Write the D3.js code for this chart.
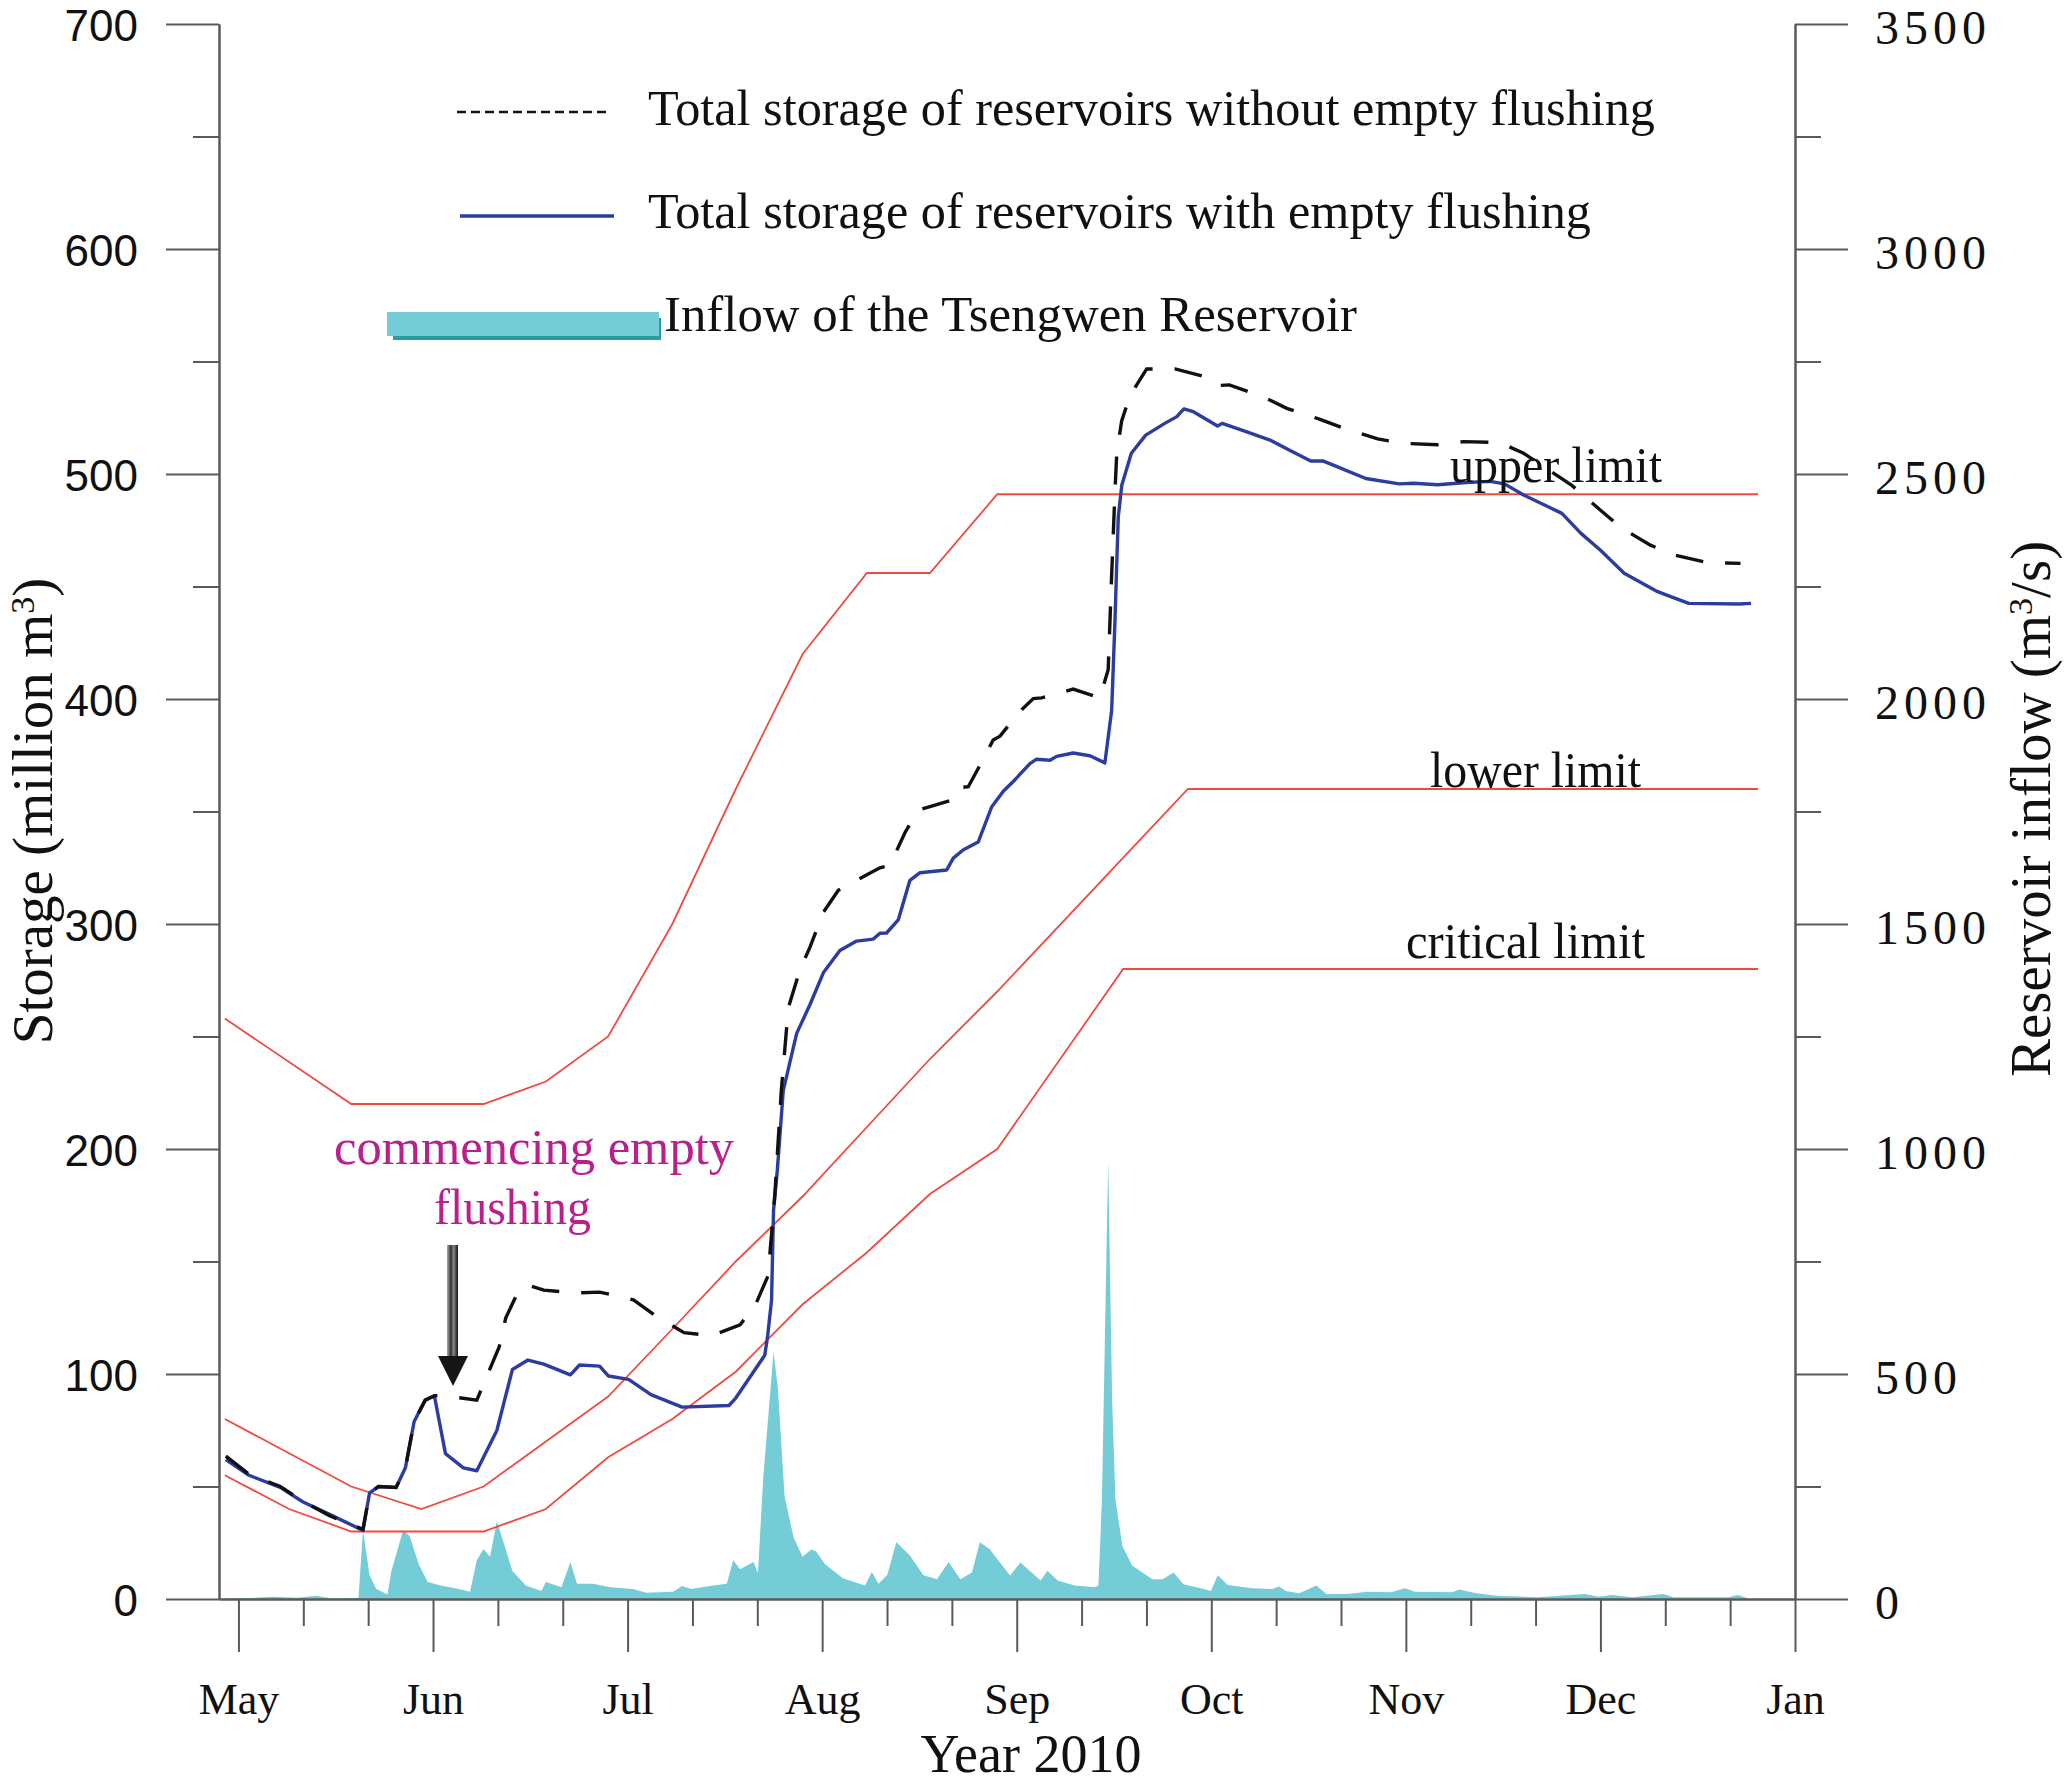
<!DOCTYPE html>
<html><head><meta charset="utf-8">
<script src="https://cdn.jsdelivr.net/npm/d3@7"></script>
<style>html,body{margin:0;padding:0;background:#fff;} svg{display:block;}</style>
</head><body>
<svg id="chart" width="2067" height="1784"></svg>
<script>
// ---- data (x = months since 1 May 2010) ----
const monthLabels = ["May","Jun","Jul","Aug","Sep","Oct","Nov","Dec","Jan"];
const leftTicks = [0,100,200,300,400,500,600,700];
const rightTicks = [0,500,1000,1500,2000,2500,3000,3500];

const storageWith = [
 [-0.065,62],[0.054,55],[0.215,49.6],[0.33,43.2],[0.468,37.6],[0.64,30.5],[0.674,47.2],[0.72,50],[0.81,49.6],
 [0.858,58.3],[0.903,78.9],[0.96,88.4],[1.007,90.3],[1.064,64.6],[1.156,58.3],[1.225,57],[1.328,74.9],[1.408,102],
 [1.488,106.2],[1.569,104.4],[1.706,99.6],[1.753,104],[1.856,103.5],[1.902,99.1],[2.005,97.6],[2.12,90.8],[2.28,85.3],
 [2.521,86],[2.555,89.2],[2.705,108.3],[2.72,117],[2.74,133],[2.75,172.6],[2.769,190],[2.8,225.9],[2.869,251.4],
 [2.937,264.1],[3.006,278.3],[3.091,288.2],[3.177,292.4],[3.263,293.3],[3.297,295.9],[3.331,296],[3.391,301.8],
 [3.451,319.4],[3.503,322.8],[3.64,324],[3.674,329.3],[3.726,333],[3.802,336.4],[3.871,352],[3.931,359],[3.982,363.3],
 [4.068,371.3],[4.1,373.2],[4.171,372.8],[4.205,374.5],[4.29,376],[4.376,374.8],[4.453,371.6],[4.488,395],[4.505,435],
 [4.514,460],[4.522,481],[4.54,495],[4.589,509.2],[4.663,517.3],[4.761,522.5],[4.823,525.5],[4.859,528.9],[4.908,527.7],
 [5.032,521.3],[5.056,522.5],[5.179,518.8],[5.302,515.1],[5.4,510.7],[5.511,505.8],[5.573,505.8],[5.646,503.3],
 [5.794,498],[5.966,495.6],[6.04,495.9],[6.163,495.2],[6.31,496.2],[6.433,496.7],[6.507,495.6],[6.605,490.7],
 [6.802,482.5],[6.9,473.6],[6.999,466.2],[7.122,455.9],[7.294,447.7],[7.368,445.3],[7.454,442.5],[7.712,442.2],[7.774,442.5]
];

const storageWithout = [
 [-0.065,63.5],[0.054,55.5],[0.215,50],[0.33,43.5],[0.468,37],[0.64,31],[0.674,47.2],[0.72,50],[0.81,49.6],
 [0.858,58.3],[0.903,78.9],[0.96,88.4],[1.007,90.3],[1.04,90.5],[1.225,88.4],[1.27,97.7],[1.34,112],[1.374,125],
 [1.443,137.6],[1.5,139.2],[1.569,137.3],[1.73,136],[1.856,136.4],[2.03,133],[2.142,126],[2.29,118.4],[2.43,117],
 [2.578,121.8],[2.66,131.3],[2.722,143.7],[2.757,180],[2.79,226],[2.826,262.7],[2.886,279.7],[2.937,289.6],
 [3.006,305.2],[3.083,315],[3.237,322.2],[3.297,325],[3.348,326],[3.426,340.7],[3.494,350.6],[3.657,354.8],
 [3.691,360.5],[3.751,361],[3.837,374.7],[3.879,381.8],[3.914,383.5],[4.016,394.5],[4.085,400.2],[4.128,400.5],
 [4.29,404.4],[4.427,400.5],[4.47,413],[4.488,455.4],[4.505,492.3],[4.514,509],[4.539,523.5],[4.582,534.8],
 [4.668,546.7],[4.814,546.7],[4.97,543.2],[5.032,539.3],[5.093,539.6],[5.265,534.4],[5.388,529.2],[5.559,524.3],
 [5.681,520.3],[5.855,515.6],[5.99,513.6],[6.163,513],[6.298,514.4],[6.482,514],[6.605,509.2],[6.851,495.1],
 [6.999,484],[7.11,475.9],[7.257,468.4],[7.38,464],[7.552,460.6],[7.72,460.3]
];

const inflow = [
 [-0.07,1],[0.05,2],[0.18,5],[0.3,3],[0.4,7],[0.48,1],[0.6,2],[0.617,3],[0.64,152],[0.674,53],[0.708,22],[0.766,10],
 [0.786,62],[0.846,152],[0.88,140],[0.926,78],[0.972,38],[1.04,30],[1.134,22],[1.19,16],[1.225,86],[1.259,111],
 [1.293,94],[1.328,173],[1.374,110],[1.408,62],[1.477,30],[1.557,18],[1.58,38],[1.66,26],[1.706,82],[1.74,34],
 [1.822,34],[1.913,26],[2.028,22],[2.096,14],[2.234,16],[2.28,29],[2.326,22],[2.44,30],[2.51,34],[2.543,86],
 [2.578,66],[2.647,82],[2.67,58],[2.697,268],[2.75,549],[2.772,470],[2.807,228],[2.853,137],[2.899,94],[2.945,110],
 [2.968,106],[3.014,78],[3.106,46],[3.22,30],[3.255,60],[3.29,34],[3.335,54],[3.381,126],[3.45,97],[3.52,53],
 [3.59,44],[3.65,82],[3.71,44],[3.77,59],[3.81,126],[3.86,111],[3.914,81],[3.966,52],[4.019,81],[4.123,41],
 [4.158,63],[4.21,41],[4.298,30],[4.4,26],[4.42,30],[4.438,222],[4.47,975],[4.49,450],[4.507,222],[4.543,118],
 [4.594,74],[4.646,59],[4.698,44],[4.75,44],[4.806,59],[4.857,33],[4.962,22],[4.998,18],[5.033,53],[5.085,31],
 [5.208,24],[5.313,22],[5.348,28],[5.383,18],[5.452,13],[5.54,30],[5.592,11],[5.697,11],[5.802,16],[5.924,15],
 [5.994,24],[6.047,16],[6.239,15],[6.274,21],[6.362,13],[6.467,7],[6.676,4],[6.921,11],[6.99,5],[7.06,9],
 [7.166,4],[7.323,11],[7.376,4],[7.656,4],[7.708,9],[7.761,1]
];

const upperLimit = [[-0.07,258],[0.58,220],[1.26,220],[1.58,230],[1.9,250],[2.23,300],[2.556,360],[2.9,420],[3.23,456],[3.554,456],[3.9,491],[7.81,491]];
const lowerLimit = [[-0.07,80],[0.58,50],[0.94,40],[1.26,50],[1.9,90],[2.23,120],[2.556,150],[2.9,179],[3.554,240],[3.9,270],[4.88,360],[7.81,360]];
const criticalLimit = [[-0.07,55],[0.26,40],[0.58,30],[1.26,30],[1.58,40],[1.9,63],[2.23,80],[2.556,101],[2.9,131],[3.23,154],[3.554,180],[3.9,200],[4.547,280],[7.81,280]];

const legendLabels = ["Total storage of reservoirs without empty flushing","Total storage of reservoirs with empty flushing","Inflow of the Tsengwen Reservoir"];
const limitLabels = ["upper limit","lower limit","critical limit"];

// ---- drawing ----
const svg = d3.select("#chart");
const serif = "'Liberation Serif','Times New Roman',serif";
const sans = "'Liberation Sans',Arial,sans-serif";
const axisColor = "#5a5a5a";

const x = d3.scaleLinear().domain([-0.1, 8]).range([219, 1795]);
const yL = d3.scaleLinear().domain([0, 700]).range([1599, 24]);
const yR = d3.scaleLinear().domain([0, 3500]).range([1599, 24]);

// inflow area
svg.append("path").datum(inflow)
  .attr("fill", "#74ccd6")
  .attr("d", d3.area().x(d => x(d[0])).y0(yR(0)).y1(d => yR(d[1])));

// axes
function styleAxis(g){
  g.selectAll("path.domain").attr("stroke", axisColor).attr("stroke-width", 2);
  g.selectAll(".tick line").attr("stroke", axisColor).attr("stroke-width", 2);
}
const minorL = d3.range(50, 700, 100);
svg.append("g").attr("transform","translate(219,0)")
  .call(d3.axisLeft(yL).tickValues(minorL).tickSize(26).tickSizeOuter(0).tickFormat(""))
  .call(styleAxis);
const gL = svg.append("g").attr("transform","translate(219,0)")
  .call(d3.axisLeft(yL).tickValues(leftTicks).tickSize(53).tickSizeOuter(0).tickPadding(28).tickFormat(d3.format("d")))
  .call(styleAxis);
gL.selectAll("text").attr("font-family", sans).attr("font-size", 44).attr("fill", "#111").attr("dy","0.37em");

const minorR = d3.range(250, 3500, 500);
svg.append("g").attr("transform","translate(1795,0)")
  .call(d3.axisRight(yR).tickValues(minorR).tickSize(26).tickSizeOuter(0).tickFormat(""))
  .call(styleAxis);
const gR = svg.append("g").attr("transform","translate(1795,0)")
  .call(d3.axisRight(yR).tickValues(rightTicks).tickSize(53).tickSizeOuter(0).tickPadding(27).tickFormat(d3.format("d")))
  .call(styleAxis);
gR.selectAll("text").attr("font-family", serif).attr("font-size", 48).attr("letter-spacing", 5).attr("fill", "#111").attr("dy","0.4em");

const minorX = [];
d3.range(0, 8).forEach(i => { minorX.push(i + 1/3, i + 2/3); });
svg.append("g").attr("transform","translate(0,1599)")
  .call(d3.axisBottom(x).tickValues(minorX).tickSize(27).tickSizeOuter(0).tickFormat(""))
  .call(styleAxis);
const gB = svg.append("g").attr("transform","translate(0,1599)")
  .call(d3.axisBottom(x).tickValues(d3.range(0, 9)).tickSize(53).tickSizeOuter(0).tickFormat(i => monthLabels[i]))
  .call(styleAxis);
gB.selectAll("text").attr("font-family", serif).attr("font-size", 44).attr("fill", "#111").attr("y", 115).attr("dy", 0);

// limit lines
const line = d3.line().x(d => x(d[0])).y(d => yL(d[1]));
[upperLimit, lowerLimit, criticalLimit].forEach(arr => {
  svg.append("path").datum(arr).attr("fill","none").attr("stroke","#ef4b3f").attr("stroke-width",1.8).attr("d", line);
});

// storage lines
svg.append("path").datum(storageWith).attr("fill","none").attr("stroke","#2b3d9f").attr("stroke-width",3.4)
  .attr("stroke-linejoin","round").attr("d", line);
svg.append("path").datum(storageWithout).attr("fill","none").attr("stroke","#111").attr("stroke-width",3.4)
  .attr("stroke-dasharray","28,22").attr("d", line);

// limit labels
const limitPos = [[1450, yL(491) - 12, 212],[1430, yL(360) - 2, 211],[1406, yL(280) - 11, 239]];
limitLabels.forEach((t, i) => {
  svg.append("text").attr("x", limitPos[i][0]).attr("y", limitPos[i][1])
    .attr("font-family", serif).attr("font-size", 51).attr("fill","#111")
    .attr("textLength", limitPos[i][2]).attr("lengthAdjust","spacingAndGlyphs").text(t);
});

// legend
const leg = svg.append("g");
leg.append("line").attr("x1",457).attr("x2",610).attr("y1",112).attr("y2",112)
  .attr("stroke","#111").attr("stroke-width",2.5).attr("stroke-dasharray","9,5");
leg.append("line").attr("x1",460).attr("x2",614).attr("y1",216).attr("y2",216)
  .attr("stroke","#2b3d9f").attr("stroke-width",3.5);
leg.append("rect").attr("x",393).attr("y",318).attr("width",268).attr("height",22).attr("fill","#2a9d9b");
leg.append("rect").attr("x",387).attr("y",312).attr("width",272).attr("height",24).attr("fill","#74ccd6");
[[648,125,1007],[648,228,943],[664,331,693]].forEach((p, i) => {
  leg.append("text").attr("x",p[0]).attr("y",p[1]).attr("font-family",serif).attr("font-size",50)
    .attr("fill","#111").attr("textLength", p[2]).attr("lengthAdjust","spacingAndGlyphs").text(legendLabels[i]);
});

// annotation
svg.append("text").attr("x",334).attr("y",1164).attr("font-family",serif).attr("font-size",51)
  .attr("fill","#bb1f8e").attr("textLength",400).attr("lengthAdjust","spacingAndGlyphs").text("commencing empty");
svg.append("text").attr("x",434).attr("y",1224).attr("font-family",serif).attr("font-size",51)
  .attr("fill","#bb1f8e").attr("textLength",157).attr("lengthAdjust","spacingAndGlyphs").text("flushing");

const defs = svg.append("defs");
const grad = defs.append("linearGradient").attr("id","shaft").attr("x1","0").attr("x2","1").attr("y1","0").attr("y2","0");
grad.append("stop").attr("offset","0").attr("stop-color","#aaa");
grad.append("stop").attr("offset","0.35").attr("stop-color","#333");
grad.append("stop").attr("offset","0.6").attr("stop-color","#888");
grad.append("stop").attr("offset","1").attr("stop-color","#111");
svg.append("rect").attr("x",447).attr("y",1245).attr("width",11).attr("height",114).attr("fill","url(#shaft)");
svg.append("path").attr("d","M438,1356 L468,1356 L453,1386 Z").attr("fill","#151515");

// axis titles
const tL = svg.append("text").attr("transform","translate(52,811) rotate(-90)").attr("text-anchor","middle")
  .attr("font-family",serif).attr("font-size",57).attr("fill","#111");
tL.append("tspan").text("Storage (million m");
tL.append("tspan").attr("dy",-18).attr("font-size",34).text("3");
tL.append("tspan").attr("dy",18).text(")");

const tR = svg.append("text").attr("transform","translate(2050,809) rotate(-90)").attr("text-anchor","middle")
  .attr("font-family",serif).attr("font-size",57).attr("fill","#111");
tR.append("tspan").text("Reservoir inflow (m");
tR.append("tspan").attr("dy",-18).attr("font-size",34).text("3");
tR.append("tspan").attr("dy",18).text("/s)");

svg.append("text").attr("x",1031).attr("y",1772).attr("text-anchor","middle")
  .attr("font-family",serif).attr("font-size",54).attr("fill","#111").text("Year 2010");
</script>
</body></html>
